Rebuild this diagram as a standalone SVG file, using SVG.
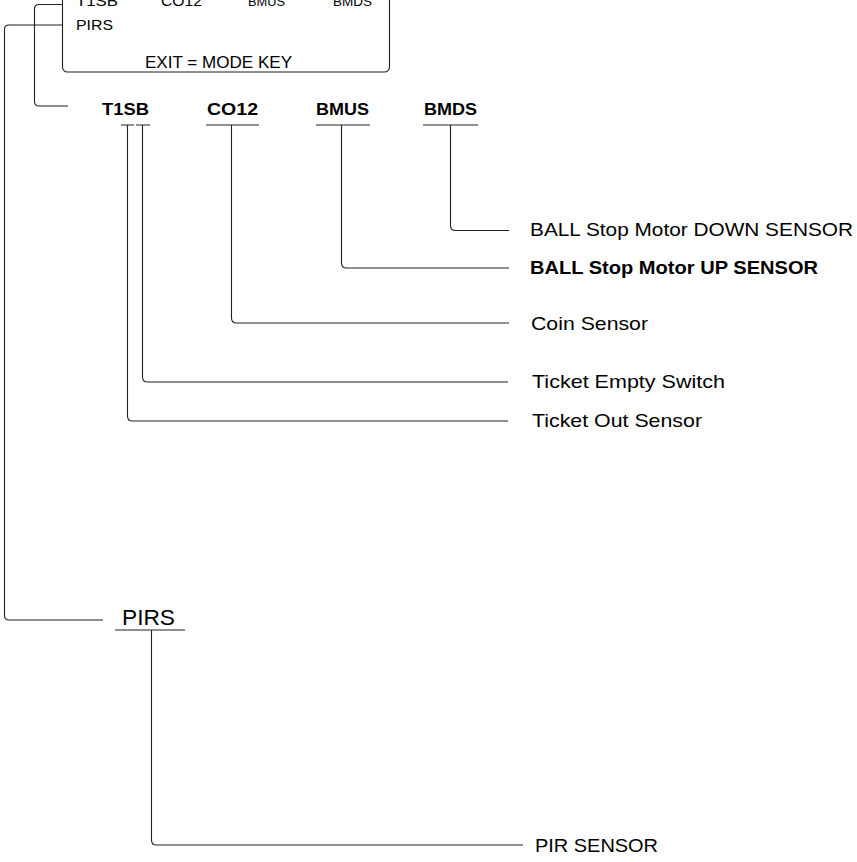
<svg xmlns="http://www.w3.org/2000/svg" width="857" height="862" viewBox="0 0 857 862">
<style>
text{font-family:"Liberation Sans",Arial,sans-serif;fill:#000}
.code{font-size:17px;font-weight:bold}
.desc{font-size:19px}
.descb{font-size:19px;font-weight:bold}
.lcd{font-size:15px}
.lcds{font-size:12px}
.ln{fill:none;stroke:#222;stroke-width:1.1}
</style>
<rect width="857" height="862" fill="#fff"/>
<g id="lcd">
<rect x="62.5" y="-30" width="327" height="102" rx="5" ry="5" class="ln"/>
<text x="76" y="6" class="lcd" textLength="42" lengthAdjust="spacingAndGlyphs">T1SB</text>
<text x="161" y="6" class="lcd" textLength="41" lengthAdjust="spacingAndGlyphs">CO12</text>
<text x="248" y="6" class="lcds" textLength="37" lengthAdjust="spacingAndGlyphs">BMUS</text>
<text x="333" y="6" class="lcds" textLength="39" lengthAdjust="spacingAndGlyphs">BMDS</text>
<text x="76" y="30" class="lcd" textLength="37" lengthAdjust="spacingAndGlyphs">PIRS</text>
<text x="145" y="68" font-size="16" textLength="147" lengthAdjust="spacingAndGlyphs">EXIT = MODE KEY</text>
</g>
<g id="t1sb">
<text x="102" y="115" class="code" textLength="47" lengthAdjust="spacingAndGlyphs">T1SB</text>
<path d="M121 125H134M136 125H150" class="ln"/>
</g>
<g id="co12">
<text x="207" y="115" class="code" textLength="51" lengthAdjust="spacingAndGlyphs">CO12</text>
<path d="M206 125H259" class="ln"/>
</g>
<g id="bmus">
<text x="316" y="115" class="code" textLength="53" lengthAdjust="spacingAndGlyphs">BMUS</text>
<path d="M316 125H370" class="ln"/>
</g>
<g id="bmds">
<text x="424" y="115" class="code" textLength="53" lengthAdjust="spacingAndGlyphs">BMDS</text>
<path d="M423 125H478" class="ln"/>
</g>
<g id="pirs">
<text x="122" y="625" font-size="22" textLength="53" lengthAdjust="spacingAndGlyphs">PIRS</text>
<path d="M115 630H185" class="ln"/>
</g>
<g id="desc-bmds"><text x="530" y="236" class="desc" textLength="323" lengthAdjust="spacingAndGlyphs">BALL Stop Motor DOWN SENSOR</text></g>
<g id="desc-bmus"><text x="530" y="274" class="descb" textLength="288" lengthAdjust="spacingAndGlyphs">BALL Stop Motor UP SENSOR</text></g>
<g id="desc-co12"><text x="531" y="330" class="desc" textLength="117" lengthAdjust="spacingAndGlyphs">Coin Sensor</text></g>
<g id="desc-t1es"><text x="532" y="388" class="desc" textLength="193" lengthAdjust="spacingAndGlyphs">Ticket Empty Switch</text></g>
<g id="desc-t1os"><text x="532" y="427" class="desc" textLength="170" lengthAdjust="spacingAndGlyphs">Ticket Out Sensor</text></g>
<g id="desc-pirs"><text x="535" y="852" class="desc" textLength="123" lengthAdjust="spacingAndGlyphs">PIR SENSOR</text></g>
<g id="connectors">
<path d="M62.5 4.5H39Q34.5 4.5 34.5 9V101.5Q34.5 106 39 106H68" class="ln"/>
<path d="M62.5 25H9Q4.5 25 4.5 29.5V615.5Q4.5 620 9 620H103" class="ln"/>
<path d="M450.5 125V225.5Q450.5 230.5 455.5 230.5H509" class="ln"/>
<path d="M341.5 125V263Q341.5 268 346.5 268H509" class="ln"/>
<path d="M231.5 125V318Q231.5 323 236.5 323H509" class="ln"/>
<path d="M142.5 125V377Q142.5 382 147.5 382H508" class="ln"/>
<path d="M127.5 125V416Q127.5 421 132.5 421H508" class="ln"/>
<path d="M151.5 630V840Q151.5 845 156.5 845H523" class="ln"/>
</g>
</svg>
